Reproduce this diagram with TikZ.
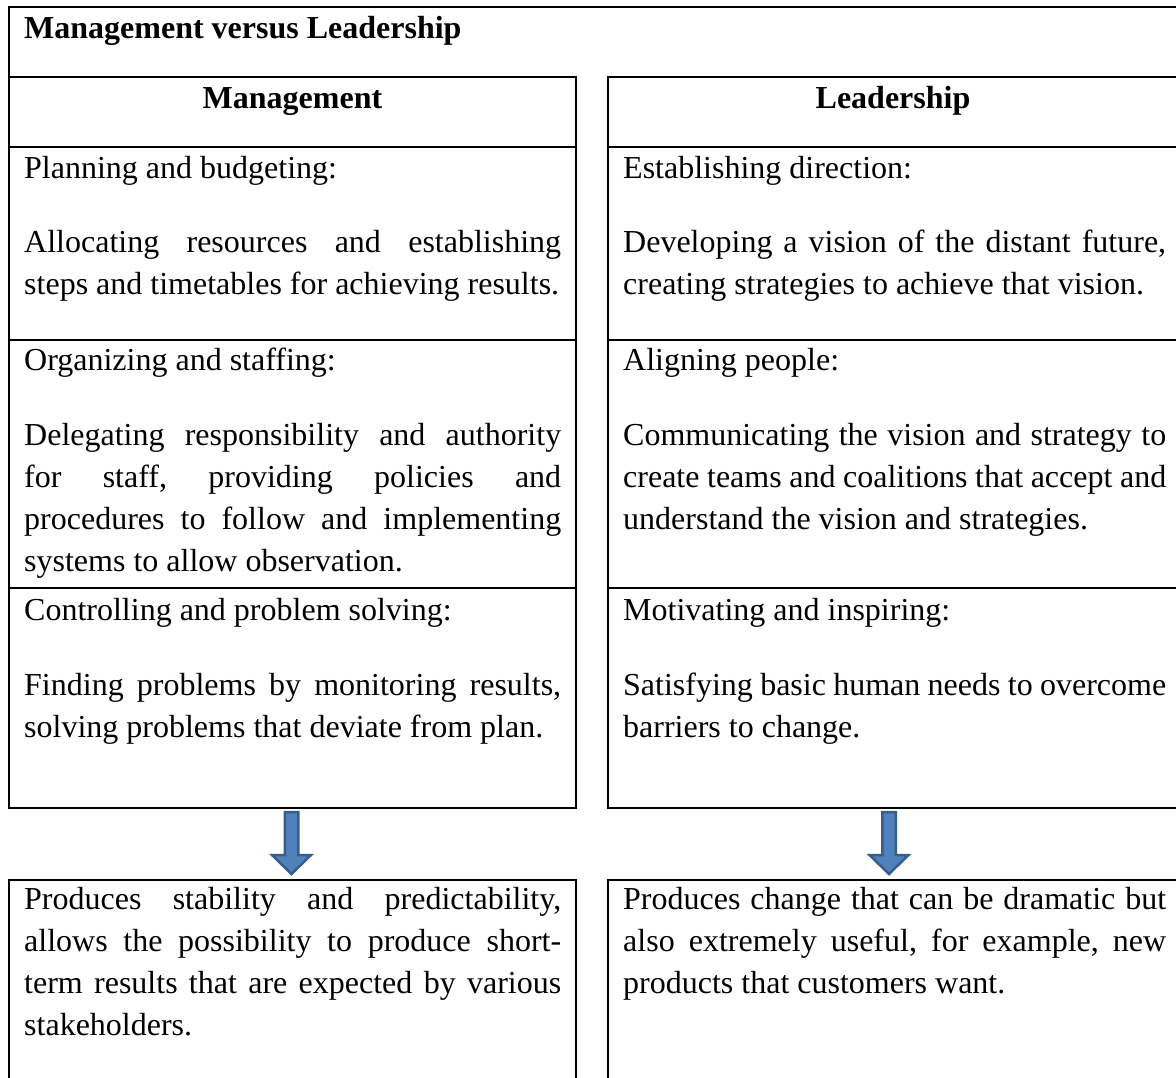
\documentclass[tikz,border=0pt]{standalone}
\usepackage{fontspec}
\setmainfont{Liberation Serif}
\definecolor{arrowfill}{HTML}{4F81BD}
\definecolor{arrowline}{HTML}{385D8A}
\newcommand\bodysetup{\frenchspacing\spaceskip 8pt plus 20pt minus 3pt\relax
  \tolerance 10000\relax\hyphenpenalty 10000\relax\exhyphenpenalty 0\relax\parindent 0pt\relax}
\newcommand\bigfont{\fontsize{32}{42}\selectfont}
\tikzset{
  frame/.style={draw=black, line width=2.2pt},
  basefont/.style={font={\bigfont}},
  heading/.style={basefont, inner sep=0pt, anchor=base west},
  bodytxt/.style={inner sep=0pt, anchor=base west, align=justify,
    font={\bigfont\bodysetup}},
  lefttxt/.style={bodytxt, text width=537pt},
  righttxt/.style={bodytxt, text width=543pt},
  blockarrow/.style={fill=arrowfill, draw=arrowline, line width=2.5pt, line join=miter},
}
\begin{document}
\begin{tikzpicture}[x=1pt, y=-1pt]
\useasboundingbox (0,0) rectangle (1176,1077);
% outer title frame
\draw[frame] (9,77) -- (9,7) -- (1190,7);
% management column
\draw[frame] (9,77) rectangle (576,808);
\foreach \yy in {147,340,588} \draw[frame] (9,\yy) -- (576,\yy);
% leadership column
\draw[frame] (608,77) rectangle (1178,808);
\foreach \yy in {147,340,588} \draw[frame] (608,\yy) -- (1178,\yy);
% bottom boxes
\draw[frame] (9,1090) -- (9,880) -- (576,880) -- (576,1090);
\draw[frame] (608,1090) -- (608,880) -- (1178,880) -- (1178,1090);

% texts
\node[basefont, inner sep=0pt, anchor=base west] (title) at (24,38.5) {\bfseries Management versus Leadership};
\node[basefont, inner sep=0pt, anchor=base] (mhead) at (292.5,108.5) {\bfseries Management};
\node[basefont, inner sep=0pt, anchor=base] (lhead) at (893,108.5) {\bfseries Leadership};

\node[heading] (m1h) at (24,178.5) {Planning and budgeting:};
\node[lefttxt] (m1b) at (24,252.5) {Allocating resources and establishing\linebreak steps and timetables for achieving results.};
\node[heading] (m2h) at (24,370.5) {Organizing and staffing:};
\node[lefttxt] (m2b) at (24,445.5) {Delegating responsibility and authority\linebreak for staff, providing policies and\linebreak procedures to follow and implementing\linebreak systems to allow observation.};
\node[heading] (m3h) at (24,620.5) {Controlling and problem solving:};
\node[lefttxt] (m3b) at (24,695.5) {Finding problems by monitoring results,\linebreak solving problems that deviate from plan.};
\node[lefttxt] (mres) at (24,909.5) {Produces stability and predictability,\linebreak allows the possibility to produce short-\linebreak term results that are expected by various\linebreak stakeholders.};

\node[heading] (l1h) at (623,178.5) {Establishing direction:};
\node[righttxt] (l1b) at (623,252.5) {Developing a vision of the distant future,\linebreak creating strategies to achieve that vision.};
\node[heading] (l2h) at (623,370.5) {Aligning people:};
\node[righttxt] (l2b) at (623,445.5) {Communicating the vision and strategy to\linebreak create teams and coalitions that accept and\linebreak understand the vision and strategies.};
\node[heading] (l3h) at (623,620.5) {Motivating and inspiring:};
\node[righttxt] (l3b) at (623,695.5) {Satisfying basic human needs to overcome\linebreak barriers to change.};
\node[righttxt] (lres) at (623,909.5) {Produces change that can be dramatic but\linebreak also extremely useful, for example, new\linebreak products that customers want.};

% block arrows
\coordinate (ma) at (291.5,812);
\coordinate (la) at (889,812);
\foreach \c in {ma,la}{
  \draw[blockarrow] ([xshift=-6.75pt]\c) -- ([xshift=6.75pt]\c) -- ([shift={(6.75pt,-43pt)}]\c)
    -- ([shift={(19.5pt,-43pt)}]\c) -- ([yshift=-62pt]\c) -- ([shift={(-19.5pt,-43pt)}]\c)
    -- ([shift={(-6.75pt,-43pt)}]\c) -- cycle;
}
\end{tikzpicture}
\end{document}
